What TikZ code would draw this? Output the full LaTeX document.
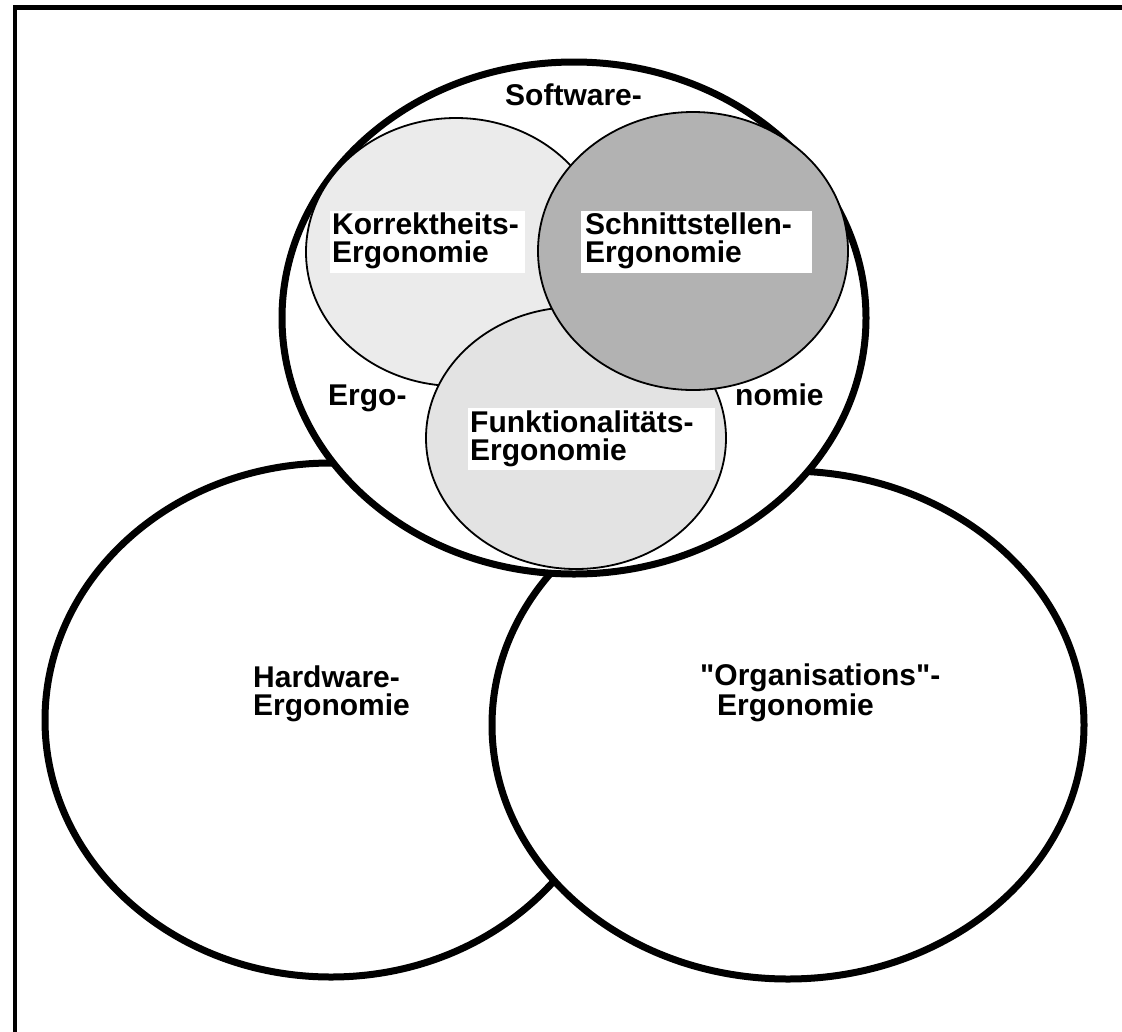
\documentclass[tikz,border=0pt]{standalone}
\usepackage{fontspec}
\newfontfamily\lsans{Liberation Sans}
\begin{document}
\begin{tikzpicture}[x=1pt,y=-1pt,
  big/.style={line width=7pt},
  inner/.style={line width=1.8pt},
  lbl/.style={font=\lsans\bfseries\fontsize{30}{28}\selectfont, inner sep=0pt, align=left, anchor=base west},
  labelbox/.style={fill=white, draw=none}]
\useasboundingbox (0,0) rectangle (1122,1031);
\clip (0,0) rectangle (1122,1031);
% frame
\draw[line width=4.5pt] (15,7.5) rectangle (1150,1060);
% bottom circles
\draw[big] (331,720) ellipse [x radius=286pt, y radius=257pt];
\draw[big, fill=white] (788,725) ellipse [x radius=296pt, y radius=254pt];
% software circle
\draw[big, fill=white] (574,318) ellipse [x radius=292pt, y radius=256pt];
% inner circles
\draw[inner, fill=black!8] (456,252) ellipse [x radius=150pt, y radius=134pt];
\draw[inner, fill=black!11] (576,438) ellipse [x radius=150pt, y radius=131pt];
\draw[inner, fill=black!30] (693,251) ellipse [x radius=155pt, y radius=139pt];
% label boxes
\fill[labelbox] (330,211) rectangle (525,273);
\fill[labelbox] (581,211) rectangle (812,273);
\fill[labelbox] (468,408) rectangle (715,470);
% labels
\node[lbl] (sw) at (505,105) {Software-};
\node[lbl] (ko) at (332,262) {Korrektheits-\\Ergonomie};
\node[lbl] (sc) at (585,262) {Schnittstellen-\\Ergonomie};
\node[lbl] (ergo) at (328,405) {Ergo-};
\node[lbl] (nomie) at (735,405) {nomie};
\node[lbl] (fu) at (470,460) {Funktionalitäts-\\Ergonomie};
\node[lbl] (hw) at (253,715) {Hardware-\\Ergonomie};
\node[lbl] (org) at (700,715) {"Organisations"-\\\hspace*{17pt}Ergonomie};
\end{tikzpicture}
\end{document}
